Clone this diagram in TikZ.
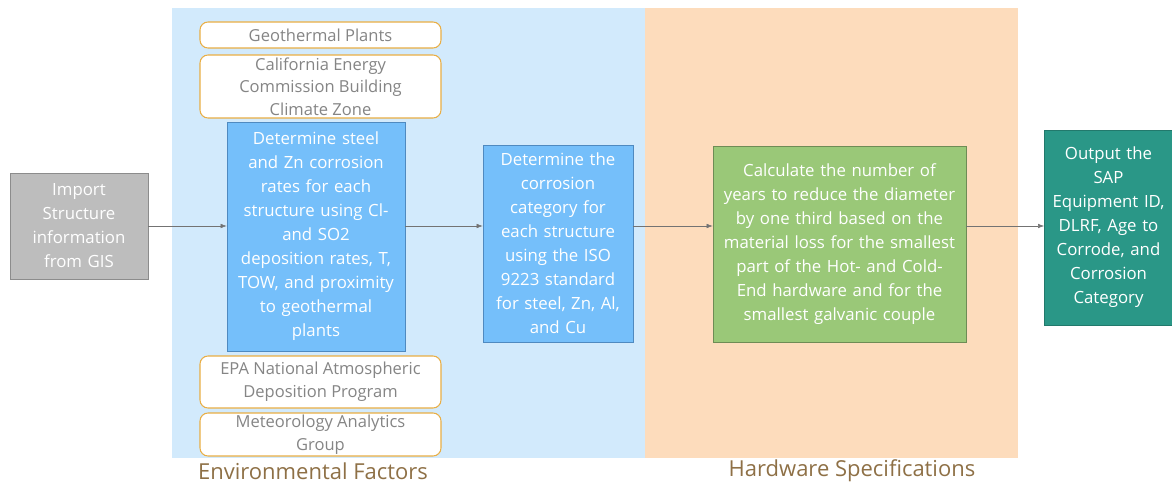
\documentclass[tikz,border=0pt]{standalone}
\usepackage{fontspec}
\setmainfont{Open Sans}
\usetikzlibrary{arrows.meta,positioning,calc}
\definecolor{envbg}{HTML}{D2EAFC}
\definecolor{hwbg}{HTML}{FDDCBC}
\definecolor{stepblue}{HTML}{75BFFA}
\definecolor{stepblueline}{HTML}{4F8AC0}
\definecolor{stepgreen}{HTML}{9AC878}
\definecolor{stepgreenline}{HTML}{6E8C55}
\definecolor{outteal}{HTML}{2A9787}
\definecolor{srcline}{HTML}{E9AE45}
\definecolor{grouptxt}{HTML}{8E7046}
\tikzset{
  bgpanel/.style ={draw=none, inner sep=0pt, anchor=north west},
  procbox/.style ={draw=stepblueline, fill=stepblue, text=white, align=center,
                   inner sep=2pt, font=\fontsize{12.6}{18}\selectfont},
  srcbox/.style  ={draw=srcline, fill=white, thick, rounded corners=6pt, align=center,
                   text=black!48, inner sep=1pt, minimum width=241*0.75pt,
                   font=\fontsize{12.4}{17}\selectfont},
  grplbl/.style  ={text=grouptxt, font=\fontsize{16.5}{20}\selectfont},
  ar/.style      ={-{Latex[length=1.6mm,width=1.2mm]}, draw=black!55, thin},
}
\begin{document}
\begin{tikzpicture}[x=0.75pt, y=-0.75pt]
\useasboundingbox (0,0) rectangle (1172,485);
% group panels
\node[bgpanel, fill=envbg, minimum width=473*0.75pt, minimum height=450*0.75pt] (env) at (172,8) {};
\node[bgpanel, fill=hwbg, minimum width=373*0.75pt, minimum height=450*0.75pt] (hw) at (645,8) {};
\node[grplbl] (envlbl) at (313,471) {Environmental Factors};
\node[grplbl] (hwlbl) at (852,471) {Hardware Specifications};

% import step
\node[procbox, draw=black!45, fill=black!26, minimum width=138*0.75pt, minimum height=106*0.75pt,
      text width=118*0.75pt] (imp) at (79,226) {Import\\Structure\\information\\from GIS};

% data sources
\node[srcbox, minimum height=26*0.75pt] (geo) at (320.5,35) {Geothermal Plants};
\node[srcbox, minimum height=63*0.75pt] (cec) at (320.5,86.5) {California Energy\\Commission Building\\Climate Zone};
\node[srcbox, minimum height=52*0.75pt] (epa) at (320.5,382) {EPA National Atmospheric\\Deposition Program};
\node[srcbox, minimum height=43*0.75pt] (met) at (320.5,434.5) {Meteorology Analytics\\Group};

% processing steps
\node[procbox, minimum width=178*0.75pt, minimum height=229*0.75pt, text width=170*0.75pt]
  (rate) at (316,236.5) {Determine steel\\and Zn corrosion\\rates for each\\structure using Cl-\\and SO2\\deposition rates, T,\\TOW, and proximity\\to geothermal\\plants};
\node[procbox, minimum width=150*0.75pt, minimum height=197*0.75pt, text width=144*0.75pt]
  (cat) at (558,243.5) {Determine the\\corrosion\\category for\\each structure\\using the ISO\\9223 standard\\for steel, Zn, Al,\\and Cu};
\node[procbox, draw=stepgreenline, fill=stepgreen, minimum width=253*0.75pt, minimum height=196*0.75pt,
      text width=244*0.75pt] (yrs) at (839.5,244) {Calculate the number of\\years to reduce the diameter\\by one third based on the\\material loss for the smallest\\part of the Hot- and Cold-\\End hardware and for the\\smallest galvanic couple};
\node[procbox, draw=outteal!80!black, fill=outteal, minimum width=127*0.75pt, minimum height=195*0.75pt,
      text width=123*0.75pt] (out) at (1108.5,227.5) {Output the\\SAP\\Equipment ID,\\DLRF, Age to\\Corrode, and\\Corrosion\\Category};

\draw[ar] (imp.east) -- (imp.east -| rate.west);
\draw[ar] (rate.east |- imp.east) -- (imp.east -| cat.west);
\draw[ar] (cat.east |- imp.east) -- (imp.east -| yrs.west);
\draw[ar] (yrs.east |- imp.east) -- (imp.east -| out.west);
\end{tikzpicture}
\end{document}
